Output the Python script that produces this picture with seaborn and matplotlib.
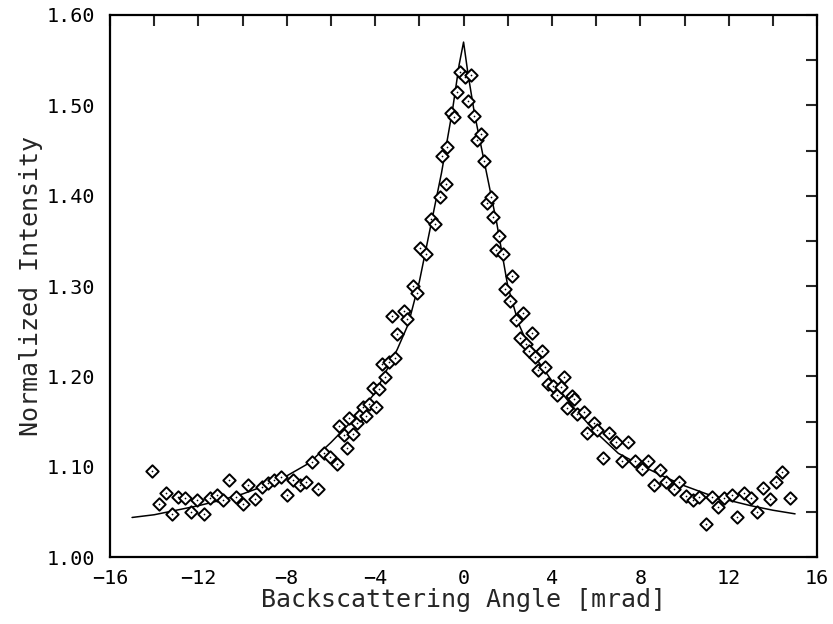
import matplotlib
matplotlib.use('Agg')
import matplotlib.pyplot as plt
from matplotlib.ticker import MultipleLocator, FormatStrFormatter
import seaborn as sns
import pandas as pd

sns.set_theme(style="white")
plt.rcParams['font.family'] = ['DejaVu Sans Mono']

# ─── DATA ──────────────────────────────────────────────────────────────────
# measured points
ANGLE = [
    -14.09, -13.78, -13.48, -13.21, -12.91, -12.61, -12.35, -12.08, -11.75, -11.47,
    -11.17, -10.87, -10.61, -10.30, -9.99, -9.74, -9.44, -9.13, -8.83, -8.56,
    -8.26, -8.00, -7.73, -7.40, -7.13, -6.87, -6.57, -6.30, -6.04, -5.71,
    -5.62, -5.41, -5.29, -5.18, -4.99, -4.83, -4.68, -4.54, -4.41, -4.29,
    -4.11, -3.98, -3.81, -3.67, -3.55, -3.37, -3.25, -3.10, -3.00, -2.69,
    -2.54, -2.30, -2.12, -1.97, -1.70, -1.49, -1.29, -1.06, -0.99, -0.79,
    -0.76, -0.57, -0.43, -0.30, -0.15, 0.05, 0.18, 0.35, 0.48, 0.60,
    0.78, 0.93, 1.05, 1.24, 1.35, 1.47, 1.62, 1.80, 1.88, 2.10,
    2.21, 2.38, 2.56, 2.68, 2.83, 2.98, 3.09, 3.21, 3.39, 3.54,
    3.69, 3.84, 4.06, 4.22, 4.40, 4.55, 4.67, 4.90, 5.00, 5.15,
    5.47, 5.58, 5.88, 6.03, 6.30, 6.60, 6.89, 7.16, 7.46, 7.76,
    8.06, 8.33, 8.62, 8.89, 9.16, 9.50, 9.77, 10.07, 10.37, 10.67,
    10.96, 11.23, 11.53, 11.80, 12.14, 12.39, 12.69, 13.00, 13.27, 13.57,
    13.87, 14.14, 14.43, 14.75,
]
INTENSITY = [
    1.095, 1.059, 1.071, 1.048, 1.067, 1.066, 1.050, 1.063, 1.048, 1.065,
    1.069, 1.063, 1.086, 1.067, 1.059, 1.080, 1.064, 1.078, 1.082, 1.085,
    1.089, 1.069, 1.085, 1.080, 1.083, 1.105, 1.075, 1.115, 1.111, 1.103,
    1.145, 1.135, 1.121, 1.154, 1.136, 1.148, 1.157, 1.166, 1.156, 1.170,
    1.187, 1.166, 1.186, 1.214, 1.199, 1.216, 1.267, 1.221, 1.247, 1.272,
    1.264, 1.300, 1.292, 1.342, 1.336, 1.374, 1.369, 1.399, 1.444, 1.413,
    1.454, 1.491, 1.487, 1.515, 1.537, 1.531, 1.505, 1.534, 1.488, 1.462,
    1.468, 1.438, 1.392, 1.399, 1.376, 1.340, 1.355, 1.336, 1.297, 1.283,
    1.311, 1.262, 1.243, 1.270, 1.236, 1.228, 1.248, 1.222, 1.207, 1.228,
    1.210, 1.192, 1.189, 1.179, 1.188, 1.199, 1.165, 1.178, 1.175, 1.159,
    1.161, 1.138, 1.149, 1.141, 1.110, 1.138, 1.128, 1.107, 1.127, 1.107,
    1.098, 1.107, 1.080, 1.096, 1.083, 1.076, 1.083, 1.068, 1.063, 1.067,
    1.037, 1.067, 1.056, 1.065, 1.069, 1.045, 1.071, 1.066, 1.050, 1.077,
    1.064, 1.083, 1.094, 1.066,
]

# fitted curve
FIT_ANGLE = [-15, -14, -13, -12, -11, -10, -9, -8, -7, -6, -5, -4, -3, -2.5, -2,
             -1.5, -1, -0.5, -0.2, 0, 0.2, 0.5, 1, 1.5, 2, 2.5, 3, 4, 5, 6, 7,
             8, 9, 10, 11, 12, 13, 14, 15]
FIT_INTENSITY = [1.044, 1.047, 1.052, 1.057, 1.063, 1.070, 1.079, 1.090, 1.104,
                 1.127, 1.152, 1.182, 1.230, 1.258, 1.305, 1.365, 1.425, 1.495,
                 1.545, 1.570, 1.535, 1.490, 1.430, 1.370, 1.300, 1.258, 1.230,
                 1.195, 1.165, 1.138, 1.115, 1.102, 1.090, 1.079, 1.070, 1.063,
                 1.057, 1.052, 1.048]

points = pd.DataFrame({"angle": ANGLE, "intensity": INTENSITY})
fit = pd.DataFrame({"angle": FIT_ANGLE, "intensity": FIT_INTENSITY})

# ─── PLOT ──────────────────────────────────────────────────────────────────
fig = plt.figure(figsize=(8.33, 6.24), dpi=100)
ax = fig.add_axes([0.132, 0.107, 0.849, 0.869])

sns.lineplot(data=fit, x="angle", y="intensity", ax=ax, color='black',
             lw=1.1, sort=False, zorder=2)
sns.scatterplot(data=points, x="angle", y="intensity", ax=ax, marker='D',
                s=40, facecolor='white', edgecolor='black', linewidth=1.4,
                zorder=3)
sns.scatterplot(data=points, x="angle", y="intensity", ax=ax, marker='o',
                s=1.5, color='black', linewidth=0, zorder=4)

ax.set_xlim(-16, 16)
ax.set_ylim(1.0, 1.6)
ax.xaxis.set_major_locator(MultipleLocator(4))
ax.xaxis.set_minor_locator(MultipleLocator(2))
ax.yaxis.set_major_locator(MultipleLocator(0.1))
ax.yaxis.set_minor_locator(MultipleLocator(0.05))
ax.yaxis.set_major_formatter(FormatStrFormatter('%.2f'))

ax.tick_params(which='major', direction='inout', length=15, width=1.5,
               labelsize=14.5, pad=3, colors='black')
ax.tick_params(which='minor', direction='in', length=8, width=1.5)
ax.tick_params(axis='x', pad=1)

for s in ax.spines.values():
    s.set_linewidth(1.6)
    s.set_color('black')

# top and right axes: inward ticks only
top = ax.secondary_xaxis('top')
top.xaxis.set_major_locator(MultipleLocator(2))
top.tick_params(direction='in', length=8, width=1.5, labeltop=False)
right = ax.secondary_yaxis('right')
right.yaxis.set_major_locator(MultipleLocator(0.05))
right.tick_params(direction='in', length=8, width=1.5, labelright=False)

ax.set_xlabel('Backscattering Angle [mrad]', fontsize=18, labelpad=0)
ax.set_ylabel('Normalized Intensity', fontsize=18, labelpad=3)
ax.grid(False)

fig.savefig('out.png', dpi=100)
